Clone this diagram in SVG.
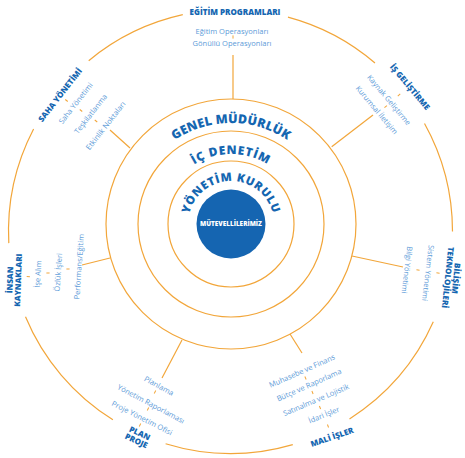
<svg xmlns="http://www.w3.org/2000/svg" width="465" height="458" viewBox="0 0 465 458">
  <style>
    .ring { fill: none; stroke: #f2a63a; stroke-width: 1.2; }
    .conn { fill: none; stroke: #f2a63a; stroke-width: 1.2; }
    .dash { fill: none; stroke: #f2a63a; stroke-width: 1; }
    .hd { font-family: "Open Sans", "Liberation Sans", sans-serif; font-weight: 800; font-size: 8px; fill: #1466b1; text-anchor: middle; }
    .it { font-family: "Open Sans", "Liberation Sans", sans-serif; font-weight: 400; font-size: 7.5px; fill: #5d9bd8; text-anchor: middle; }
    .arc { font-family: "Open Sans", "Liberation Sans", sans-serif; font-weight: 800; fill: #1466b1; text-anchor: middle; }
    .core { font-family: "Open Sans", "Liberation Sans", sans-serif; font-weight: 800; font-size: 6.4px; fill: #ffffff; text-anchor: middle; }
  </style>
  <defs>
    <path id="p-genel" d="M130,224 A101,101 0 0 1 332,224"/>
    <path id="p-ic" d="M161,224 A70,70 0 0 1 301,224"/>
    <path id="p-yk" d="M188,224 A43,43 0 0 1 274,224"/>
    <path id="tick" d="M0,-1.6 V1.6"/>
  </defs>

  <rect width="465" height="458" fill="#ffffff"/>

  <!-- outer ring, broken where the department titles sit -->
  <g id="outer-ring" class="ring">
    <path d="M287.96,17.06 A222,222 0 0 1 374.98,62.93"/>
    <path d="M424.5,123.5 A222,222 0 0 1 452.5,231.5"/>
    <path d="M433.3,321.8 A222,222 0 0 1 349.5,418.9"/>
    <path d="M292.8,444.6 A222,222 0 0 1 165.6,443.8"/>
    <path d="M112.9,419.8 A222,222 0 0 1 25.5,316.8"/>
    <path d="M8.8,243.1 A222,222 0 0 1 33.6,129.0"/>
    <path d="M88.7,60.7 A222,222 0 0 1 182.8,14.7"/>
  </g>

  <!-- concentric core levels -->
  <g id="genel-mudurluk">
    <circle class="ring" cx="231" cy="224" r="125"/>
    <text class="arc" font-size="12.5" letter-spacing="0.1"><textPath href="#p-genel" startOffset="50%">GENEL MÜDÜRLÜK</textPath></text>
  </g>
  <g id="ic-denetim">
    <circle class="ring" cx="231" cy="224" r="93"/>
    <text class="arc" font-size="12" letter-spacing="0.8"><textPath href="#p-ic" startOffset="50%">İÇ DENETİM</textPath></text>
  </g>
  <g id="yonetim-kurulu">
    <circle class="ring" cx="231" cy="224" r="63"/>
    <text class="arc" font-size="11.5" letter-spacing="0.6"><textPath href="#p-yk" startOffset="50%">YÖNETİM KURULU</textPath></text>
  </g>
  <g id="mutevelli">
    <circle cx="231" cy="224" r="34.5" fill="#1565b1"/>
    <text class="core" x="231" y="226.3">MÜTEVELLİLERİMİZ</text>
  </g>

  <!-- connectors from each department to the general directorate ring -->
  <g id="connectors" class="conn">
    <path d="M233,55 V99"/>
    <path d="M373,115 L331.7,146.7"/>
    <path d="M403,267 L352,256"/>
    <path d="M302,353 L290,334"/>
    <path d="M162,378 L182,340"/>
    <path d="M82,265 L110,258"/>
    <path d="M110,130 L130,148"/>
  </g>

  <g id="egitim-programlari">
    <text class="hd" x="235" y="14.9">EĞİTİM PROGRAMLARI</text>
    <text class="it" x="232" y="33.6">Eğitim Operasyonları</text>
    <use href="#tick" class="dash" x="233" y="37"/>
    <text class="it" x="232" y="46">Gönüllü Operasyonları</text>
  </g>

  <g id="is-gelistirme">
    <text class="hd" y="2.9" transform="translate(410 87) rotate(50)">İŞ GELİŞTİRME</text>
    <use href="#tick" class="dash" transform="translate(399 95) rotate(50)"/>
    <text class="it" y="2.6" transform="translate(389 100) rotate(50)">Kaynak Geliştirme</text>
    <use href="#tick" class="dash" transform="translate(385.7 106.7) rotate(50)"/>
    <text class="it" y="2.6" transform="translate(376.7 110) rotate(50)">Kurumsal İletişim</text>
  </g>

  <g id="bilisim-teknolojileri">
    <text class="hd" transform="translate(452 278) rotate(96)"><tspan x="0" y="-1.2">BİLİŞİM</tspan><tspan x="0" y="7">TEKNOLOJİLERİ</tspan></text>
    <use href="#tick" class="dash" transform="translate(438 273) rotate(96)"/>
    <text class="it" y="2.6" transform="translate(428 273) rotate(97)">Sistem Yönetimi</text>
    <use href="#tick" class="dash" transform="translate(418 270) rotate(97)"/>
    <text class="it" y="2.6" transform="translate(407 270) rotate(97)">Bilgi Yönetimi</text>
  </g>

  <g id="mali-isler">
    <text class="hd" y="2.9" transform="translate(332 437) rotate(-19)">MALİ İŞLER</text>
    <use href="#tick" class="dash" transform="translate(328 426) rotate(-20)"/>
    <text class="it" y="2.6" transform="translate(324 415) rotate(-22)">İdari İşler</text>
    <use href="#tick" class="dash" transform="translate(320 407.5) rotate(-22)"/>
    <text class="it" y="2.6" transform="translate(316 400) rotate(-23)">Satınalma ve Lojistik</text>
    <use href="#tick" class="dash" transform="translate(312.5 392.5) rotate(-23)"/>
    <text class="it" y="2.6" transform="translate(309 385) rotate(-24)">Bütçe ve Raporlama</text>
    <use href="#tick" class="dash" transform="translate(305.5 378) rotate(-24)"/>
    <text class="it" y="2.6" transform="translate(302 371) rotate(-24)">Muhasebe ve Finans</text>
  </g>

  <g id="plan-proje">
    <text class="hd" transform="translate(138 437) rotate(25)"><tspan x="0" y="-1.2">PLAN</tspan><tspan x="0" y="7">PROJE</tspan></text>
    <use href="#tick" class="dash" transform="translate(140 425) rotate(27)"/>
    <text class="it" y="2.6" transform="translate(142 418) rotate(27)">Proje Yönetim Ofisi</text>
    <use href="#tick" class="dash" transform="translate(148 409) rotate(28)"/>
    <text class="it" y="2.6" transform="translate(151 404) rotate(28)">Yönetim Raporlaması</text>
    <use href="#tick" class="dash" transform="translate(155 392) rotate(29)"/>
    <text class="it" y="2.6" transform="translate(159 386) rotate(29)">Planlama</text>
  </g>

  <g id="insan-kaynaklari">
    <text class="hd" transform="translate(14 280) rotate(-88)"><tspan x="0" y="-1.2">İNSAN</tspan><tspan x="0" y="7">KAYNAKLARI</tspan></text>
    <use href="#tick" class="dash" transform="translate(28.3 276.7) rotate(-87)"/>
    <text class="it" y="2.6" transform="translate(38 274) rotate(-86)">İşe Alım</text>
    <use href="#tick" class="dash" transform="translate(48 273) rotate(-86)"/>
    <text class="it" y="2.6" transform="translate(58.3 272.3) rotate(-86)">Özlük İşleri</text>
    <use href="#tick" class="dash" transform="translate(68 269) rotate(-86)"/>
    <text class="it" y="2.6" transform="translate(79 266.7) rotate(-86)">Performans/Eğitim</text>
  </g>

  <g id="saha-yonetimi">
    <text class="hd" y="2.9" transform="translate(60 95) rotate(-52)">SAHA YÖNETİMİ</text>
    <use href="#tick" class="dash" transform="translate(66.5 100.5) rotate(-52)"/>
    <text class="it" y="2.6" transform="translate(75.7 103.3) rotate(-52)">Saha Yönetimi</text>
    <use href="#tick" class="dash" transform="translate(81 110.5) rotate(-52)"/>
    <text class="it" y="2.6" transform="translate(90.7 114) rotate(-52)">Teşkilatlanma</text>
    <use href="#tick" class="dash" transform="translate(96 121) rotate(-52)"/>
    <text class="it" y="2.6" transform="translate(105.7 125.7) rotate(-52)">Etkinlik Noktaları</text>
  </g>
</svg>
